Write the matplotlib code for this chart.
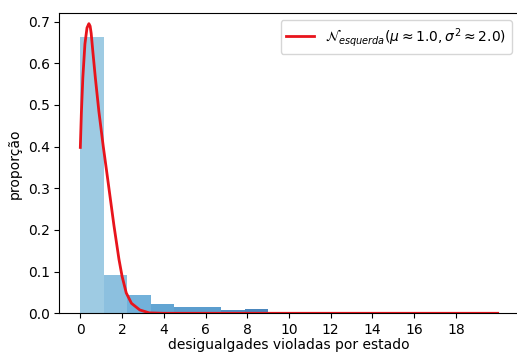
import matplotlib
matplotlib.use("Agg")
import matplotlib.pyplot as plt

# histogram (bin edges and heights)
bin_edges = [0, 1.125, 2.25, 3.375, 4.5, 5.625, 6.75, 7.875, 9.0]
bar_heights = [0.662, 0.093, 0.045, 0.022, 0.015, 0.014, 0.008, 0.011]
bar_colors = ['#9ecbe3', '#8cc0df', '#72b1da', '#62a5d3', '#5b9dce', '#5b9dce', '#4f8dc2', '#4a86bd']

# fitted curve points
curve_x = [0, 0.05, 0.12, 0.22, 0.32, 0.41, 0.47, 0.52, 0.6, 0.72, 0.89, 1.1, 1.25, 1.43,
           1.61, 1.85, 2.0, 2.2, 2.45, 2.85, 3.3, 4.0, 10.0, 20.0]
curve_y = [0.398, 0.48, 0.565, 0.646, 0.685, 0.695, 0.689, 0.672, 0.628, 0.565, 0.484, 0.40,
           0.345, 0.278, 0.211, 0.13, 0.089, 0.049, 0.024, 0.008, 0.001, 0.0, 0.0, 0.0]

label = r'$\mathcal{N}_{esquerda}(\mu \approx 1.0, \sigma^2 \approx 2.0)$'
xticks = list(range(0, 20, 2))

fig = plt.figure(figsize=(5.17, 3.53), dpi=100)
ax = fig.add_axes([0.115, 0.1125, 0.888, 0.85])

lefts = bin_edges[:-1]
widths = [bin_edges[i + 1] - bin_edges[i] for i in range(len(lefts))]
ax.bar(lefts, bar_heights, width=widths, align='edge', color=bar_colors, linewidth=0)
ax.plot(curve_x, curve_y, color='#e8141c', linewidth=2, label=label)

ax.set_xlim(-1, 21)
ax.set_ylim(0, 0.72)
ax.set_xticks(xticks)
ax.set_yticks([0.0, 0.1, 0.2, 0.3, 0.4, 0.5, 0.6, 0.7])
ax.set_xlabel('desigualgades violadas por estado', labelpad=1)
ax.set_ylabel('proporção', labelpad=4)
ax.legend(loc='upper right', fontsize=10)

fig.savefig('out.png', dpi=100)
